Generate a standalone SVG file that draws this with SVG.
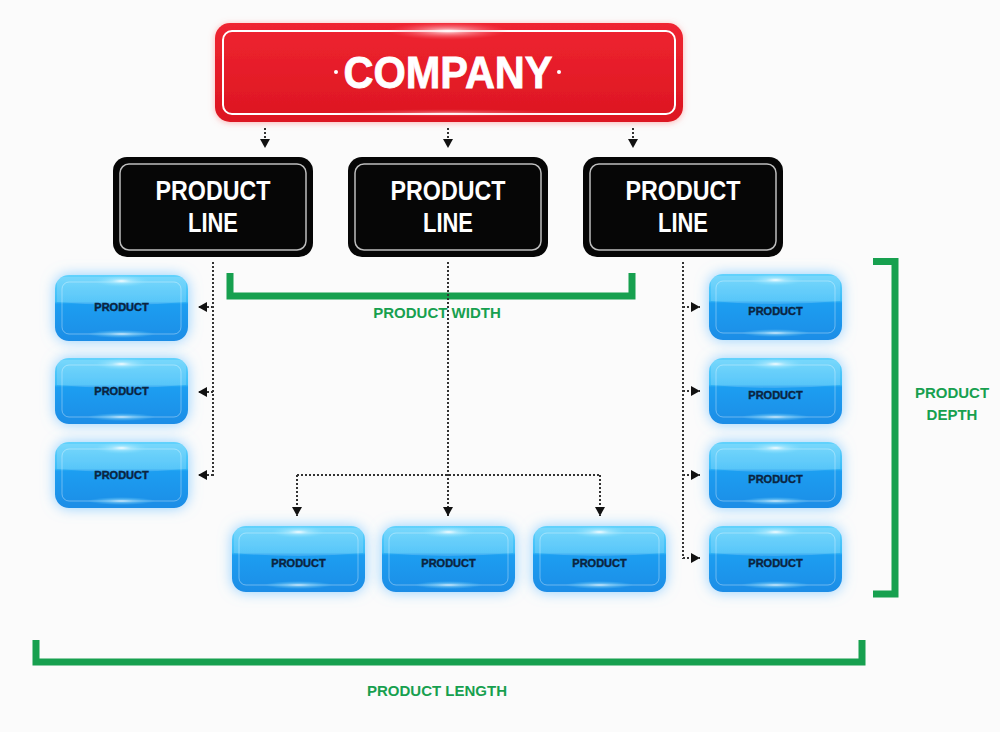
<svg xmlns="http://www.w3.org/2000/svg" xmlns:xlink="http://www.w3.org/1999/xlink" width="1000" height="732" viewBox="0 0 1000 732">
  <defs>
    <style>
      .pl { font-family: "Liberation Sans", "DejaVu Sans", sans-serif; font-weight: bold; fill: #ffffff; text-anchor: middle; }
      .pt { font-family: "Liberation Sans", "DejaVu Sans", sans-serif; font-weight: bold; font-size: 11px; fill: #0b2440; stroke: #0b2440; stroke-width: 0.4; text-anchor: middle; }
      .gl { font-family: "Liberation Sans", "DejaVu Sans", sans-serif; font-weight: bold; font-size: 15px; fill: #17a04f; text-anchor: middle; }
      .br { fill: none; stroke: #17a04f; stroke-width: 7; stroke-linejoin: miter; stroke-linecap: butt; }
      .dot { fill: none; stroke: #333333; stroke-width: 2; stroke-dasharray: 2 2; }
    </style>
    <marker id="ah" markerWidth="10" markerHeight="10" refX="9" refY="5" orient="auto" markerUnits="userSpaceOnUse" viewBox="0 0 10 10">
      <path d="M0,0 L9,5 L0,10 Z" fill="#111111"/>
    </marker>
    <linearGradient id="redG" x1="0" y1="0" x2="0" y2="1">
      <stop offset="0" stop-color="#ef2531"/>
      <stop offset="1" stop-color="#dc1521"/>
    </linearGradient>
    <radialGradient id="redHi" cx="0.5" cy="0.5" r="0.5">
      <stop offset="0" stop-color="#ffffff" stop-opacity="0.95"/>
      <stop offset="0.3" stop-color="#ffd0d4" stop-opacity="0.6"/>
      <stop offset="1" stop-color="#ff6070" stop-opacity="0"/>
    </radialGradient>
    <linearGradient id="blueG" x1="0" y1="0" x2="0" y2="1">
      <stop offset="0" stop-color="#62d2fc"/>
      <stop offset="0.40" stop-color="#3cbdf8"/>
      <stop offset="0.44" stop-color="#1c9ef1"/>
      <stop offset="1" stop-color="#1a8de6"/>
    </linearGradient>
    <radialGradient id="blueHi" cx="0.5" cy="0.5" r="0.5">
      <stop offset="0" stop-color="#ffffff" stop-opacity="0.95"/>
      <stop offset="0.35" stop-color="#bff0ff" stop-opacity="0.55"/>
      <stop offset="1" stop-color="#80e0ff" stop-opacity="0"/>
    </radialGradient>
    <filter id="glow" x="-30%" y="-50%" width="160%" height="200%">
      <feDropShadow dx="0" dy="0" stdDeviation="7" flood-color="#74c4ff" flood-opacity="0.8"/>
    </filter>
    <filter id="rglow" x="-10%" y="-30%" width="120%" height="160%">
      <feDropShadow dx="0" dy="1" stdDeviation="3" flood-color="#ff6a6a" flood-opacity="0.5"/>
    </filter>
    <g id="bbox">
      <rect x="0" y="0" width="133" height="66" rx="14" fill="url(#blueG)" filter="url(#glow)"/>
      <path d="M8,2 H125 Q131,2 131,8 V27 Q66,33 2,27 V8 Q2,2 8,2 Z" fill="#ffffff" fill-opacity="0.15"/>
      <rect x="7" y="7" width="119" height="52" rx="7" fill="none" stroke="#ffffff" stroke-opacity="0.35" stroke-width="1"/>
      <ellipse cx="66.5" cy="6" rx="28" ry="6" fill="url(#blueHi)"/>
      <ellipse cx="66.5" cy="59" rx="34" ry="4" fill="url(#blueHi)" opacity="0.8"/>
    </g>
  </defs>

  <rect x="0" y="0" width="1000" height="732" fill="#fbfbfb"/>

  <g id="brackets">
    <path class="br" d="M230,273 V296 H632 V273"/>
    <path class="br" d="M873,261.5 H895 V594 H873"/>
    <path class="br" d="M36,640 V662 H862 V640"/>
  </g>

  <g id="company">
    <rect x="215" y="23" width="468" height="99" rx="15" fill="url(#redG)" filter="url(#rglow)"/>
    <rect x="223" y="31" width="452" height="83" rx="9" fill="none" stroke="#ffffff" stroke-width="2"/>
    <ellipse cx="448" cy="31" rx="60" ry="9" fill="url(#redHi)"/>
    <ellipse cx="448" cy="113" rx="120" ry="4" fill="url(#redHi)" opacity="0.5"/>
    <text class="pl" x="448" y="88" font-size="44" textLength="209" lengthAdjust="spacingAndGlyphs" stroke="#ffffff" stroke-width="0.8">COMPANY</text>
    <circle cx="336" cy="72" r="2" fill="#ffffff"/>
    <circle cx="559" cy="72" r="2" fill="#ffffff"/>
  </g>

  <g id="line1">
    <rect x="113" y="157" width="200" height="100" rx="14" fill="#060606"/>
    <rect x="120" y="164" width="186" height="86" rx="9" fill="none" stroke="#bdbdbd" stroke-width="1.5"/>
    <text class="pl" x="213" y="200" font-size="27" textLength="115" lengthAdjust="spacingAndGlyphs">PRODUCT</text>
    <text class="pl" x="213" y="232" font-size="27" textLength="50" lengthAdjust="spacingAndGlyphs">LINE</text>
  </g>
  <g id="line2">
    <rect x="348" y="157" width="200" height="100" rx="14" fill="#060606"/>
    <rect x="355" y="164" width="186" height="86" rx="9" fill="none" stroke="#bdbdbd" stroke-width="1.5"/>
    <text class="pl" x="448" y="200" font-size="27" textLength="115" lengthAdjust="spacingAndGlyphs">PRODUCT</text>
    <text class="pl" x="448" y="232" font-size="27" textLength="50" lengthAdjust="spacingAndGlyphs">LINE</text>
  </g>
  <g id="line3">
    <rect x="583" y="157" width="200" height="100" rx="14" fill="#060606"/>
    <rect x="590" y="164" width="186" height="86" rx="9" fill="none" stroke="#bdbdbd" stroke-width="1.5"/>
    <text class="pl" x="683" y="200" font-size="27" textLength="115" lengthAdjust="spacingAndGlyphs">PRODUCT</text>
    <text class="pl" x="683" y="232" font-size="27" textLength="50" lengthAdjust="spacingAndGlyphs">LINE</text>
  </g>

  <g id="left1"><use xlink:href="#bbox" x="55" y="275"/><text class="pt" x="121.5" y="311">PRODUCT</text></g>
  <g id="left2"><use xlink:href="#bbox" x="55" y="358"/><text class="pt" x="121.5" y="395">PRODUCT</text></g>
  <g id="left3"><use xlink:href="#bbox" x="55" y="442"/><text class="pt" x="121.5" y="479">PRODUCT</text></g>

  <g id="mid1"><use xlink:href="#bbox" x="232" y="526"/><text class="pt" x="298.5" y="567">PRODUCT</text></g>
  <g id="mid2"><use xlink:href="#bbox" x="382" y="526"/><text class="pt" x="448.5" y="567">PRODUCT</text></g>
  <g id="mid3"><use xlink:href="#bbox" x="533" y="526"/><text class="pt" x="599.5" y="567">PRODUCT</text></g>

  <g id="right1"><use xlink:href="#bbox" x="709" y="274"/><text class="pt" x="775.5" y="315">PRODUCT</text></g>
  <g id="right2"><use xlink:href="#bbox" x="709" y="358"/><text class="pt" x="775.5" y="399">PRODUCT</text></g>
  <g id="right3"><use xlink:href="#bbox" x="709" y="442"/><text class="pt" x="775.5" y="483">PRODUCT</text></g>
  <g id="right4"><use xlink:href="#bbox" x="709" y="526"/><text class="pt" x="775.5" y="567">PRODUCT</text></g>

  <g id="connectors">
    <path class="dot" d="M265,128 V148" marker-end="url(#ah)"/>
    <path class="dot" d="M448,128 V148" marker-end="url(#ah)"/>
    <path class="dot" d="M633,128 V148" marker-end="url(#ah)"/>

    <path class="dot" d="M213,262 V476"/>
    <path class="dot" d="M213,307 H198" marker-end="url(#ah)"/>
    <path class="dot" d="M213,392 H198" marker-end="url(#ah)"/>
    <path class="dot" d="M213,475 H198" marker-end="url(#ah)"/>

    <path class="dot" d="M683,262 V559"/>
    <path class="dot" d="M683,307 H700" marker-end="url(#ah)"/>
    <path class="dot" d="M683,391 H700" marker-end="url(#ah)"/>
    <path class="dot" d="M683,475 H700" marker-end="url(#ah)"/>
    <path class="dot" d="M683,558 H700" marker-end="url(#ah)"/>

    <path class="dot" d="M448,262 V516" marker-end="url(#ah)"/>
    <path class="dot" d="M297,475 H600"/>
    <path class="dot" d="M297,475 V516" marker-end="url(#ah)"/>
    <path class="dot" d="M600,475 V516" marker-end="url(#ah)"/>
  </g>

  <g id="labels">
    <text class="gl" x="437" y="318">PRODUCT WIDTH</text>
    <text class="gl" x="952" y="398">PRODUCT</text>
    <text class="gl" x="952" y="420">DEPTH</text>
    <text class="gl" x="437" y="696">PRODUCT LENGTH</text>
  </g>
</svg>
